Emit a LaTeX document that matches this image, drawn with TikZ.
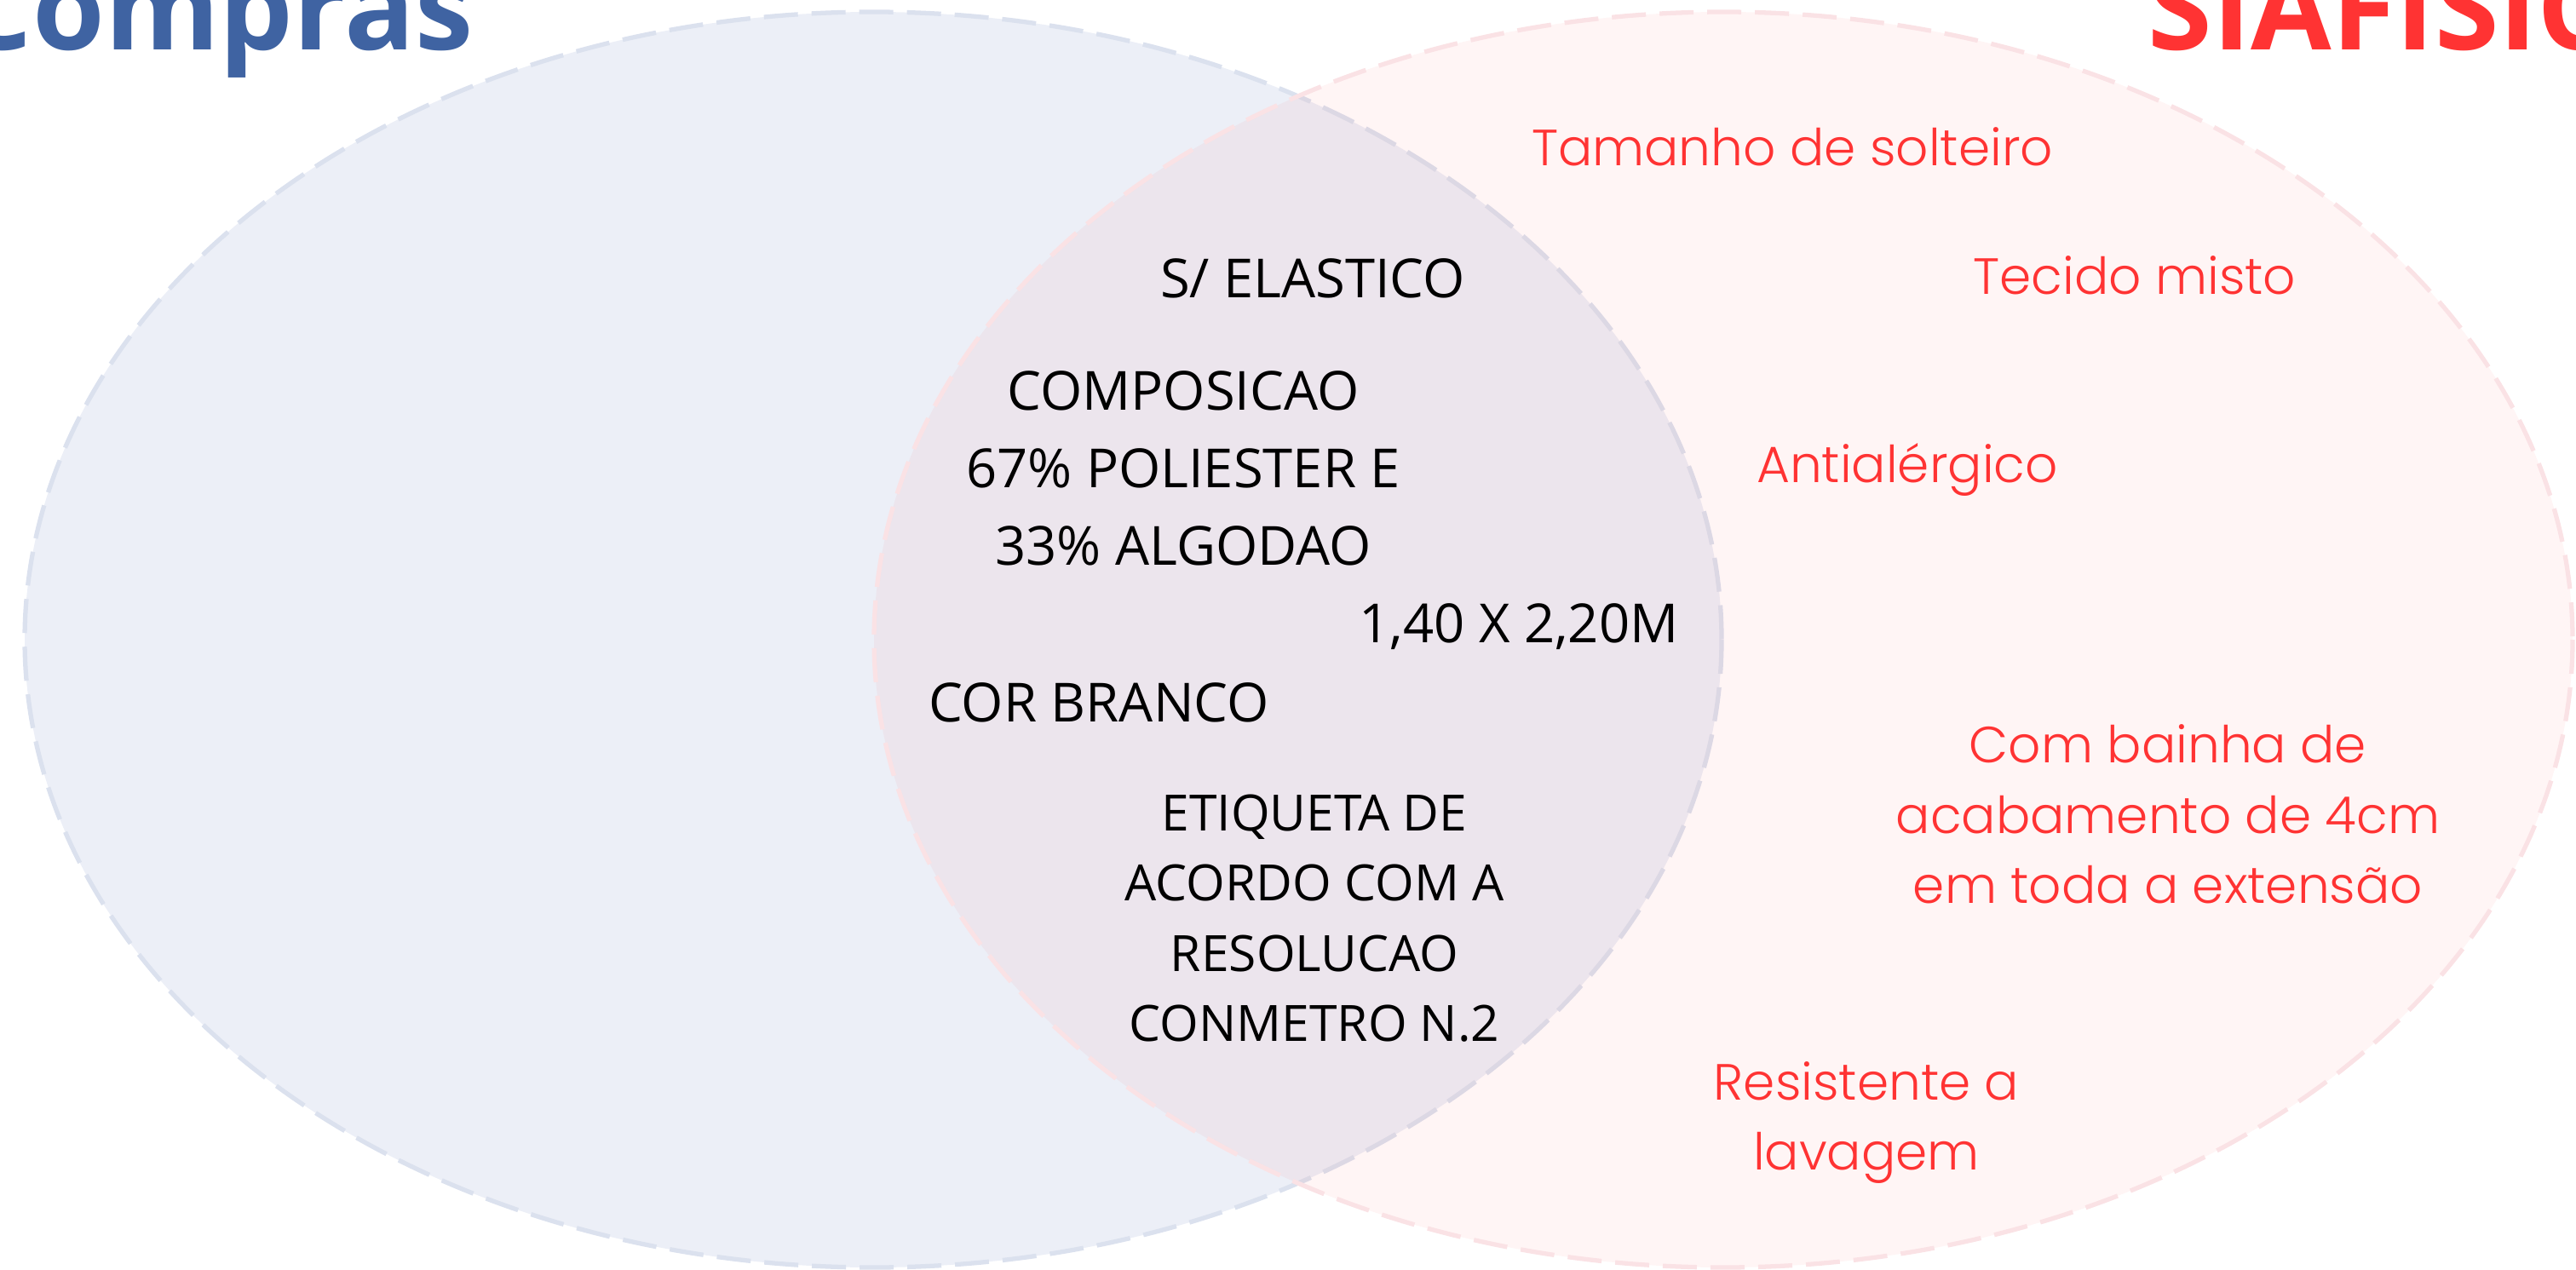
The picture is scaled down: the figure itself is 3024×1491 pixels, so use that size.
\documentclass[tikz,border=0pt]{standalone}
\usepackage{fontspec}
\setmainfont{Open Sans}
\newfontfamily\redfont{Poppins Light}
\usepackage{xcolor}
\usepackage{tikz}
\definecolor{comprasblue}{RGB}{63,99,162}
\definecolor{siafred}{RGB}{255,51,51}
\definecolor{bluefill}{RGB}{236,239,247}
\definecolor{blueline}{RGB}{219,225,238}
\definecolor{redline}{RGB}{250,226,229}

\begin{document}
\begin{tikzpicture}[x=0.01cm, y=-0.01cm,
    setline/.style={line width=1.5pt, dash pattern=on 0.4cm off 0.16cm},
    item/.style={font=\fontsize{18}{25.8}\selectfont, align=center, inner sep=0pt},
    reditem/.style={text=siafred, font=\redfont\fontsize{17}{23.4}\selectfont, align=center, inner sep=0pt},
    settitle/.style={font=\fontsize{39}{44}\selectfont\bfseries, inner sep=0pt}]
    \useasboundingbox (0,0) rectangle (3024,1491);
    \clip (0,0) rectangle (3024,1491);

    % the two sets
    \fill[bluefill] (1025,751) ellipse [x radius=996, y radius=737];
    \draw[blueline, setline] (1025,751) ellipse [x radius=996, y radius=737];
    \fill[siafred, fill opacity=0.05] (2023,751) ellipse [x radius=997, y radius=737];
    \draw[redline, setline] (2023,751) ellipse [x radius=997, y radius=737];

    \node[settitle, text=comprasblue, anchor=base east] (compras) at (556,59) {Compras};
    \node[settitle, text=siafred, anchor=base west] (siafisico) at (2521,59) {SIAFISICO};

    % both
    \node[item, anchor=base] (elastico) at (1541,349) {S/ ELASTICO};
    \node[item] (composicao) at (1389,550) {COMPOSICAO\\67\% POLIESTER E\\33\% ALGODAO};
    \node[item, anchor=base] (medida) at (1783,754) {1,40 X 2,20M};
    \node[item, anchor=base] (cor) at (1290,847) {COR BRANCO};
    \node[item, font=\fontsize{16.7}{23.4}\selectfont] (etiqueta) at (1543,1078) {ETIQUETA DE\\ACORDO COM A\\RESOLUCAO\\CONMETRO N.2};

    % only SIAFISICO
    \node[reditem, anchor=base] (tamanho) at (2104,195) {Tamanho de solteiro};
    \node[reditem, anchor=base] (tecido) at (2506,345) {Tecido misto};
    \node[reditem, anchor=base] (antialergico) at (2239,566) {Antialérgico};
    \node[reditem] (bainha) at (2545,956) {Com bainha de\\acabamento de 4cm\\em toda a extensão};
    \node[reditem] (lavagem) at (2191,1318) {Resistente a\\lavagem};
\end{tikzpicture}
\end{document}
